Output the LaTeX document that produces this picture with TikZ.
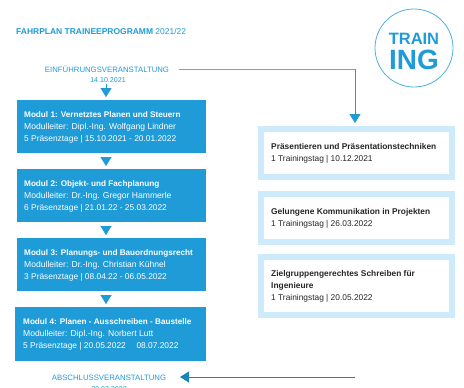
\documentclass[tikz,border=0pt]{standalone}
\usepackage{fontspec}
\setmainfont{Liberation Sans}
\usetikzlibrary{arrows.meta}
\definecolor{tblue}{HTML}{1F9BD7}
\definecolor{tlight}{HTML}{CDEBFA}
\definecolor{tline}{HTML}{4FB0E0}
\newcommand{\modhead}[1]{{\fontsize{8.2}{12}\selectfont\textbf{#1}}}
\newcommand{\moddate}[1]{{\fontsize{8.4}{12}\selectfont #1}}
\tikzset{
  x=1bp,y=-1bp,
  modbox/.style={fill=tblue,draw=none,minimum height=#1,anchor=north west,inner sep=0pt,outer sep=0pt},
  modtext/.style={text=white,anchor=west,align=left,font=\fontsize{8.6}{12}\selectfont,inner sep=0pt},
  sidebox/.style={draw=tlight,line width=6bp,fill=white,inner sep=0pt,outer sep=0pt,anchor=north west,minimum width=191bp},
  sidetext/.style={text=black!85,anchor=west,align=left,font=\fontsize{8.4}{12}\selectfont,inner sep=0pt},
  head/.style={text=tblue,inner sep=0pt},
  tri/.style={-{Triangle[length=9bp,width=11bp]},draw=tblue,line width=0.1bp},
}
\begin{document}
\begin{tikzpicture}
\useasboundingbox (0,0) rectangle (464,387);
\fill[white] (0,0) rectangle (464,387);
\coordinate (axis) at (106,0);
\node[head,anchor=west,font=\fontsize{8.5}{10}\selectfont] (title) at (16,31.5) {\textbf{FAHRPLAN TRAINEEPROGRAMM} 2021/22};
\node[head,font=\fontsize{7.8}{9}\selectfont] (start) at (107,69) {EINFÜHRUNGSVERANSTALTUNG};
\node[head,font=\fontsize{7.1}{8}\selectfont] (startd) at (108,80) {14.10.2021};
\node[modbox=53bp,minimum width=189bp] (m1) at (17,100) {};
\node[modbox=53bp,minimum width=189bp] (m2) at (17,169) {};
\node[modbox=53bp,minimum width=189bp] (m3) at (17,238) {};
\node[modbox=54bp,minimum width=191bp] (m4) at (15,307) {};
\node[modtext] (t1) at (24,127) {\modhead{Modul 1: Vernetztes Planen und Steuern}\\Modulleiter: Dipl.-Ing. Wolfgang Lindner\\\moddate{5 Präsenztage | 15.10.2021 - 20.01.2022}};
\node[modtext] (t2) at (24,196) {\modhead{Modul 2: Objekt- und Fachplanung}\\Modulleiter: Dr.-Ing. Gregor Hammerle\\\moddate{6 Präsenztage | 21.01.22 - 25.03.2022}};
\node[modtext] (t3) at (24,265) {\modhead{Modul 3: Planungs- und Bauordnungsrecht}\\Modulleiter: Dr.-Ing. Christian Kühnel\\\moddate{3 Präsenztage | 08.04.22 - 06.05.2022}};
\node[modtext] (t4) at (23,334) {\modhead{Modul 4: Planen - Ausschreiben - Baustelle}\\Modulleiter: Dipl.-Ing. Norbert Lutt\\\moddate{5 Präsenztage | 20.05.2022 \quad 08.07.2022}};
\draw[tri,shorten <=1bp] (axis |- startd.south) -- ([yshift=3bp]axis |- m1.north);
\draw[tri,shorten <=4bp,shorten >=3bp] (axis |- m1.south) -- (axis |- m2.north);
\draw[tri,shorten <=4bp,shorten >=3bp] (axis |- m2.south) -- (axis |- m3.north);
\draw[tri,shorten <=4bp,shorten >=3bp] (axis |- m3.south) -- (axis |- m4.north);
\node[sidebox,minimum height=48bp] (s1) at (261,129) {};
\node[sidebox,minimum height=48bp] (s2) at (261,194) {};
\node[sidebox,minimum height=58bp] (s3) at (261,257) {};
\node[sidetext] (u1) at (271,153) {\textbf{Präsentieren und Präsentationstechniken}\\1 Trainingstag | 10.12.2021};
\node[sidetext] (u2) at (271,218) {\textbf{Gelungene Kommunikation in Projekten}\\1 Trainingstag | 26.03.2022};
\node[sidetext] (u3) at (271,286) {\textbf{Zielgruppengerechtes Schreiben für}\\\textbf{Ingenieure}\\1 Trainingstag | 20.05.2022};
\node[head,font=\fontsize{7.8}{9}\selectfont] (end) at (109,377.5) {ABSCHLUSSVERANSTALTUNG};
\node[head,font=\fontsize{7.1}{8}\selectfont] (endd) at (109,389) {22.07.2022};
\coordinate (c0) at (179,69);
\coordinate (c1) at (355,69);
\coordinate (c2) at (355,377);
\coordinate (c3) at (180,377);
\draw[tline,line width=0.8bp] (c0) -- (c1);
\draw[tblue,line width=0.8bp,-{Triangle[length=9bp,width=11bp]}] (c1) -- ([yshift=6bp]s1.north -| c1);
\draw[tblue!85!black,line width=0.8bp,-{Triangle[length=9bp,width=11bp]}] (c2) -- (c3);
\node[circle,draw=tline,line width=0.8bp,minimum size=78bp,inner sep=0pt,outer sep=0pt] (logo) at (414,48) {};
\node[inner sep=0pt,text=tblue] (train) at (414,38.5) {\fontsize{16.5}{17}\selectfont\textbf{TRAIN}};
\node[inner sep=0pt,text=tblue] (ing) at (414,60) {\fontsize{28}{29}\selectfont\textbf{ING}};
\end{tikzpicture}
\end{document}
